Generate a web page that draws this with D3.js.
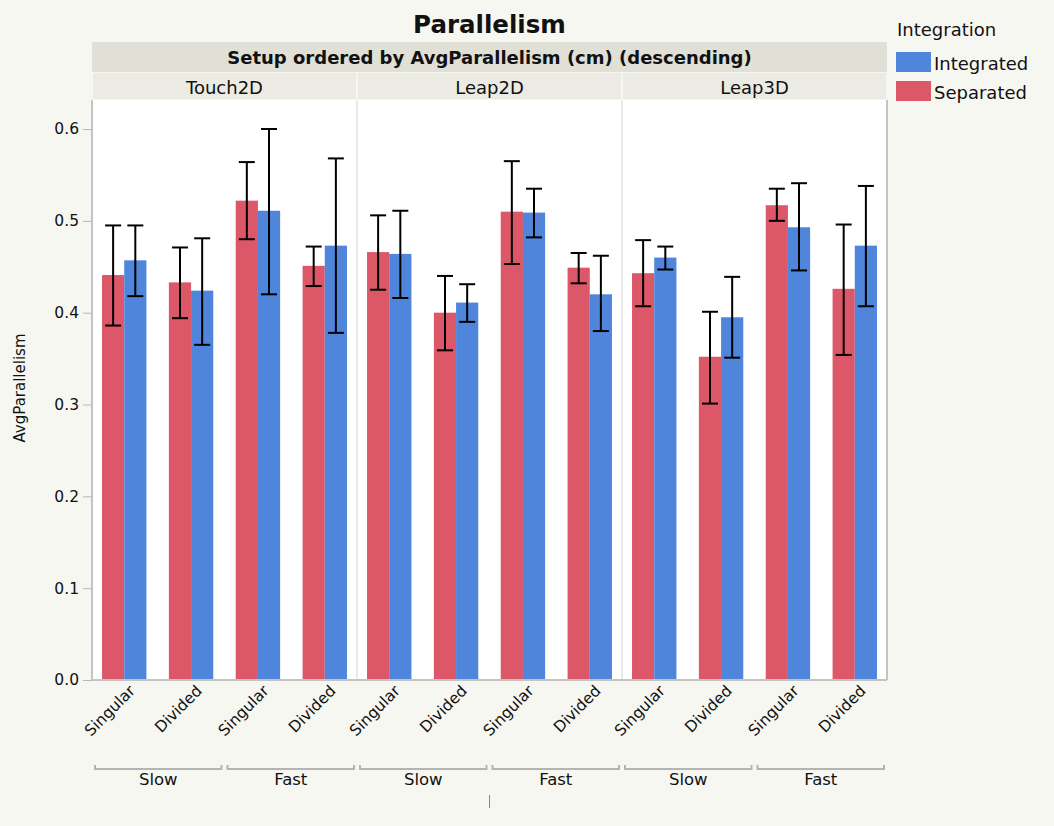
<!DOCTYPE html>
<html>
<head>
<meta charset="utf-8">
<script src="https://cdn.jsdelivr.net/npm/d3@7"></script>
<style>
  body { margin: 0; background: #f7f7f2; }
  text { font-family: "DejaVu Sans", "Liberation Sans", Arial, sans-serif; fill: #111; }
</style>
</head>
<body>
<svg id="chart" width="1054" height="826"></svg>
<script>
// data
var setups = ["Touch2D", "Leap2D", "Leap3D"];
var conditions = ["Singular", "Divided", "Singular", "Divided"];
var speeds = ["Slow", "Fast"];
var series = ["Separated", "Integrated"];
var yTicks = [0.0, 0.1, 0.2, 0.3, 0.4, 0.5, 0.6];

// per setup: Singular-Slow, Divided-Slow, Singular-Fast, Divided-Fast
var separatedMean = [[0.441, 0.433, 0.522, 0.451], [0.466, 0.400, 0.510, 0.449], [0.443, 0.352, 0.517, 0.426]];
var separatedLow  = [[0.386, 0.394, 0.480, 0.429], [0.425, 0.359, 0.453, 0.432], [0.407, 0.301, 0.500, 0.354]];
var separatedHigh = [[0.495, 0.471, 0.564, 0.472], [0.506, 0.440, 0.565, 0.465], [0.479, 0.401, 0.535, 0.496]];
var integratedMean = [[0.457, 0.424, 0.511, 0.473], [0.464, 0.411, 0.509, 0.420], [0.460, 0.395, 0.493, 0.473]];
var integratedLow  = [[0.418, 0.365, 0.420, 0.378], [0.416, 0.390, 0.482, 0.380], [0.447, 0.351, 0.446, 0.407]];
var integratedHigh = [[0.495, 0.481, 0.600, 0.568], [0.511, 0.431, 0.535, 0.462], [0.472, 0.439, 0.541, 0.538]];

var colors = { Separated: "#dc5869", Integrated: "#4f86db" };

(function(){
    "use strict";

    var svg = d3.select("#chart");
    var left = 92, right = 887, top = 100, bottom = 680;

    var rows = [];
    setups.forEach(function(s, i) {
        conditions.forEach(function(c, j) {
            rows.push({ setup: s, group: j, series: "Separated",
                mean: separatedMean[i][j], lo: separatedLow[i][j], hi: separatedHigh[i][j] });
            rows.push({ setup: s, group: j, series: "Integrated",
                mean: integratedMean[i][j], lo: integratedLow[i][j], hi: integratedHigh[i][j] });
        });
    });

    var xPanel = d3.scaleBand().domain(setups).range([left, right]);
    var xGroup = d3.scaleBand().domain(d3.range(4)).range([0, xPanel.bandwidth()])
        .paddingInner(0.336).paddingOuter(0.15);
    var xSeries = d3.scaleBand().domain(series).range([0, xGroup.bandwidth()]);
    var y = d3.scaleLinear().domain([0, 0.6]).range([bottom, bottom - 0.6 * 918.3]);

    // title + header bands
    svg.append("text").attr("x", (left + right) / 2).attr("y", 33)
        .attr("text-anchor", "middle").style("font-size", "24.5px").style("font-weight", "bold")
        .text("Parallelism");

    svg.append("rect").attr("x", left).attr("y", 42).attr("width", right - left).attr("height", 30)
        .attr("fill", "#e0e0d7");
    svg.append("text").attr("x", (left + right) / 2).attr("y", 63.5)
        .attr("text-anchor", "middle").style("font-size", "18px").style("font-weight", "bold")
        .text("Setup ordered by AvgParallelism (cm) (descending)");

    setups.forEach(function(s) {
        svg.append("rect").attr("x", xPanel(s) + 1).attr("y", 73)
            .attr("width", xPanel.bandwidth() - 2).attr("height", 26).attr("fill", "#ebebe3");
        svg.append("text").attr("x", xPanel(s) + xPanel.bandwidth() / 2).attr("y", 94)
            .attr("text-anchor", "middle").style("font-size", "18px").text(s);
    });

    // plot area
    svg.append("rect").attr("x", left).attr("y", top).attr("width", right - left)
        .attr("height", bottom - top).attr("fill", "#fff");
    setups.slice(1).forEach(function(s) {
        svg.append("line").attr("x1", xPanel(s)).attr("x2", xPanel(s))
            .attr("y1", top).attr("y2", bottom).attr("stroke", "#e2e2e2").attr("stroke-width", 1.5);
    });
    svg.append("line").attr("x1", right).attr("x2", right).attr("y1", top).attr("y2", bottom)
        .attr("stroke", "#c4c4c4").attr("stroke-width", 2);

    // bars
    svg.append("g").selectAll("rect").data(rows).enter().append("rect")
        .attr("x", function(d) { return xPanel(d.setup) + xGroup(d.group) + xSeries(d.series); })
        .attr("y", function(d) { return y(d.mean); })
        .attr("width", xSeries.bandwidth())
        .attr("height", function(d) { return y(0) - y(d.mean); })
        .attr("fill", function(d) { return colors[d.series]; });

    // error bars
    var eb = svg.append("g").selectAll("g").data(rows).enter().append("g")
        .attr("stroke", "#000").attr("stroke-width", 2);
    function cx(d) { return xPanel(d.setup) + xGroup(d.group) + xSeries(d.series) + xSeries.bandwidth() / 2; }
    eb.append("line").attr("x1", cx).attr("x2", cx)
        .attr("y1", function(d) { return y(d.lo); }).attr("y2", function(d) { return y(d.hi); });
    eb.append("line").attr("x1", function(d) { return cx(d) - 8; }).attr("x2", function(d) { return cx(d) + 8; })
        .attr("y1", function(d) { return y(d.hi); }).attr("y2", function(d) { return y(d.hi); });
    eb.append("line").attr("x1", function(d) { return cx(d) - 8; }).attr("x2", function(d) { return cx(d) + 8; })
        .attr("y1", function(d) { return y(d.lo); }).attr("y2", function(d) { return y(d.lo); });

    // y axis
    var yAxis = svg.append("g").attr("transform", "translate(" + left + ",0)")
        .call(d3.axisLeft(y).tickValues(yTicks).tickFormat(d3.format(".1f")).tickSize(9).tickPadding(4));
    yAxis.select(".domain").attr("stroke", "#c4c4c4").attr("stroke-width", 2).attr("d", "M0," + top + "V" + bottom);
    yAxis.selectAll(".tick line").attr("stroke", "#b8b8b8");
    yAxis.selectAll(".tick text").style("font-size", "15.5px").attr("fill", "#111")
        .style("font-family", "'DejaVu Sans', sans-serif");

    svg.append("line").attr("x1", left).attr("x2", right).attr("y1", bottom).attr("y2", bottom)
        .attr("stroke", "#c4c4c4").attr("stroke-width", 2);

    svg.append("text").attr("transform", "translate(25," + 388 + ") rotate(-90)")
        .attr("text-anchor", "middle").style("font-size", "15px").text("AvgParallelism");

    // x labels
    var ticks = [];
    setups.forEach(function(s) {
        conditions.forEach(function(c, j) { ticks.push({ setup: s, group: j, label: c }); });
    });
    svg.append("g").selectAll("text").data(ticks).enter().append("text")
        .attr("transform", function(d) {
            var x = xPanel(d.setup) + xGroup(d.group) + xGroup.bandwidth() / 2 + 8;
            return "translate(" + x + ",688) rotate(-45)";
        })
        .attr("text-anchor", "end").attr("dy", "0.35em").style("font-size", "15.5px")
        .text(function(d) { return d.label; });

    // speed brackets
    var spans = [];
    setups.forEach(function(s) {
        speeds.forEach(function(sp, k) { spans.push({ setup: s, speed: sp, k: k }); });
    });
    var br = svg.append("g").selectAll("g").data(spans).enter().append("g");
    function bx0(d) { return xPanel(d.setup) + xPanel.bandwidth() / 2 * d.k + 3; }
    function bx1(d) { return xPanel(d.setup) + xPanel.bandwidth() / 2 * (d.k + 1) - 3; }
    br.append("path")
        .attr("d", function(d) { return "M" + bx0(d) + ",765V769H" + bx1(d) + "V765"; })
        .attr("fill", "none").attr("stroke", "#b4b4b4").attr("stroke-width", 2);
    br.append("text").attr("x", function(d) { return (bx0(d) + bx1(d)) / 2; }).attr("y", 785)
        .attr("text-anchor", "middle").style("font-size", "16.5px").text(function(d) { return d.speed; });

    svg.append("line").attr("x1", (left + right) / 2).attr("x2", (left + right) / 2)
        .attr("y1", 795).attr("y2", 808).attr("stroke", "#888").attr("stroke-width", 1);

    // legend
    svg.append("text").attr("x", 897).attr("y", 36).style("font-size", "18px").text("Integration");
    var leg = svg.append("g").selectAll("g").data(["Integrated", "Separated"]).enter().append("g")
        .attr("transform", function(d, i) { return "translate(896," + (52 + i * 29) + ")"; });
    leg.append("rect").attr("width", 35).attr("height", 20).attr("fill", function(d) { return colors[d]; });
    leg.append("text").attr("x", 38).attr("y", 18).style("font-size", "18px").text(function(d) { return d; });
}());
</script>
</body>
</html>
